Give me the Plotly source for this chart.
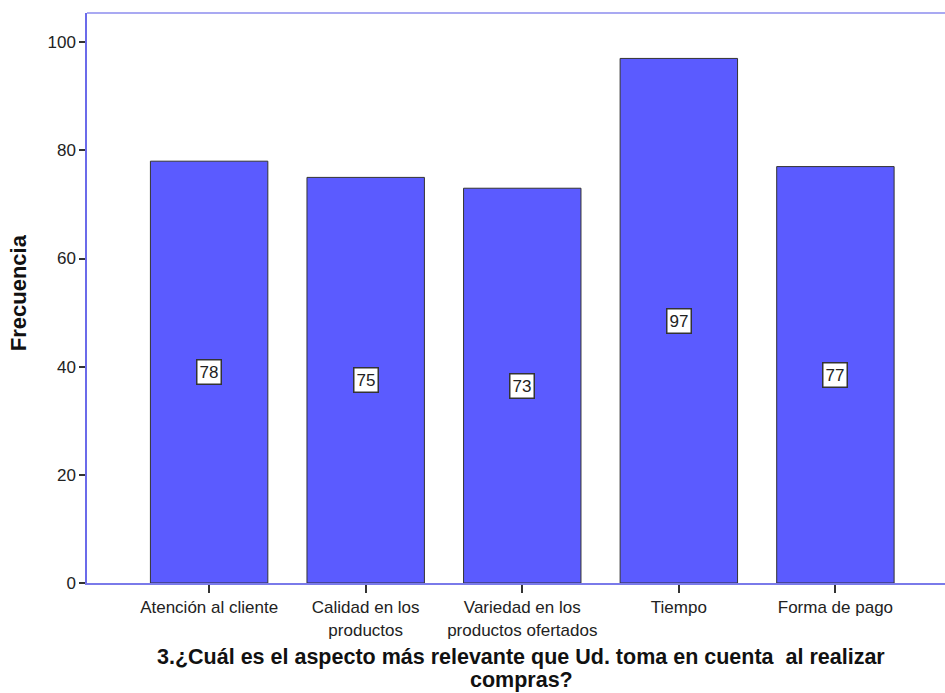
import plotly.graph_objects as go

categories = ["Atención al cliente", "Calidad en los<br>productos",
              "Variedad en los<br>productos ofertados", "Tiempo", "Forma de pago"]
frequencies = [78, 75, 73, 97, 77]
y_ticks = [0, 20, 40, 60, 80, 100]
x_title_lines = ["3.¿Cuál es el aspecto más relevante que Ud. toma en cuenta  al realizar",
                 "compras?"]

x_positions = list(range(len(categories)))
FONT = "Arial, Liberation Sans, sans-serif"

fig = go.Figure()
fig.add_trace(go.Bar(
    x=x_positions,
    y=frequencies,
    width=0.75,
    marker=dict(color="#5b5bff", line=dict(color="#333333", width=1)),
    hoverinfo="skip",
))

# value boxes at half bar height
for xp, v in zip(x_positions, frequencies):
    fig.add_annotation(
        x=xp, y=v / 2, xref="x", yref="y",
        text=str(v), showarrow=False,
        font=dict(family=FONT, size=17, color="#222222"),
        bgcolor="white", bordercolor="#333333", borderwidth=1.5, borderpad=2,
    )

fig.add_annotation(
    x=-0.0805, y=0.51, xref="paper", yref="paper", xanchor="center", yanchor="middle",
    text="<b>Frecuencia</b>", textangle=-90, showarrow=False,
    font=dict(family=FONT, size=22, color="#111111"),
)
# x-axis title, one annotation per line for tight leading
title_y = [-0.1298, -0.1702]
for line, ty in zip(x_title_lines, title_y):
    fig.add_annotation(
        x=0.506, y=ty, xref="paper", yref="paper",
        xanchor="center", yanchor="middle", text=f"<b>{line}</b>", showarrow=False,
        font=dict(family=FONT, size=21.5, color="#111111"),
    )

# top border line of the frame
fig.add_shape(type="line", xref="paper", yref="paper", x0=0, x1=1, y0=1, y1=1,
              line=dict(color="#a9a9f2", width=2))

fig.update_layout(
    width=945, height=693,
    margin=dict(l=87, r=0, t=13, b=110),
    paper_bgcolor="white", plot_bgcolor="white",
    showlegend=False,
    xaxis=dict(
        range=[-0.78, 4.70],
        tickvals=x_positions, ticktext=categories,
        ticks="outside", ticklen=8, tickcolor="#333333", tickwidth=1.5,
        showline=True, linecolor="#7a7aea", linewidth=2,
        showgrid=False, zeroline=False,
        tickfont=dict(family=FONT, size=17, color="#222222"),
        fixedrange=True,
    ),
    yaxis=dict(
        range=[0, 105.4],
        tickvals=y_ticks,
        ticks="outside", ticklen=6, tickcolor="#333333", tickwidth=2,
        showline=True, linecolor="#6b6bea", linewidth=1.5,
        showgrid=False, zeroline=False,
        tickfont=dict(family=FONT, size=17, color="#222222"),
        fixedrange=True,
    ),
)

fig.write_html("out.html")
